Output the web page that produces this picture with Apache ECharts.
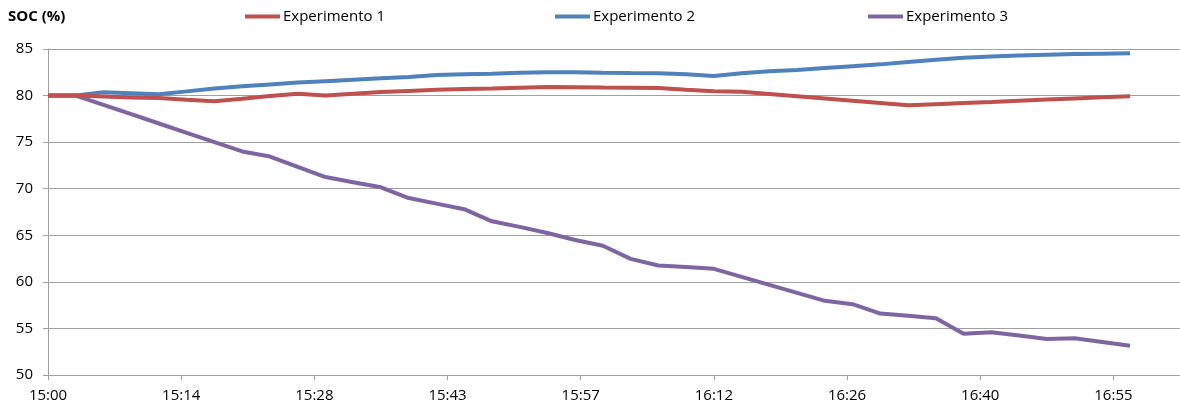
<!DOCTYPE html>
<html>
<head>
<meta charset="utf-8">
<script src="https://cdn.jsdelivr.net/npm/echarts@6/dist/echarts.min.js"></script>
<style>
html,body{margin:0;padding:0;background:#fff;}
#chart{width:1180px;height:407px;}
</style>
</head>
<body>
<div id="chart"></div>
<script>
// minutes after 15:00
const minutes = [0,3,6,9,12,15,18,21,24,27,30,33,36,39,42,45,48,51,54,57,60,63,66,69,72,75,78,81,84,87,90,93,96,99,102,105,108,111,114,117];
const exp1 = [80,80,79.9,79.8,79.75,79.55,79.38,79.65,79.95,80.2,80.0,80.2,80.38,80.5,80.62,80.7,80.75,80.85,80.93,80.9,80.87,80.85,80.8,80.62,80.47,80.4,80.16,79.92,79.68,79.44,79.2,78.96,79.08,79.2,79.32,79.45,79.57,79.69,79.81,79.93];
const exp2 = [80,80,80.35,80.25,80.15,80.45,80.75,81.0,81.2,81.4,81.55,81.7,81.85,82.0,82.2,82.3,82.35,82.45,82.5,82.5,82.45,82.42,82.4,82.3,82.1,82.4,82.6,82.75,82.95,83.15,83.35,83.6,83.85,84.05,84.2,84.3,84.38,84.45,84.5,84.55];
const exp3 = [80,80,79,78,77,76,75,74,73.45,72.35,71.25,70.7,70.15,69.0,68.4,67.8,66.5,65.9,65.25,64.5,63.87,62.47,61.76,61.6,61.4,60.54,59.68,58.82,57.96,57.6,56.6,56.35,56.1,54.44,54.59,54.23,53.87,53.94,53.55,53.15];
const seriesNames = ['Experimento 1','Experimento 2','Experimento 3'];
const tickLabels = ['15:00','15:14','15:28','15:43','15:57','16:12','16:26','16:40','16:55'];
const colors = ['#C0504D','#4F81BD','#8064A2'];

const FONT = 'Open Sans';
const chart = echarts.init(document.getElementById('chart'));
const pairs = arr => minutes.map((m,i)=>[m,arr[i]]);
const legendLefts = [245,555,868];
chart.setOption({
  animation:false,
  textStyle:{fontFamily:FONT},
  title:{text:'SOC (%)',left:8,top:9,padding:0,textStyle:{fontFamily:FONT,fontSize:15,fontWeight:'bold',color:'#000'}},
  legend: seriesNames.map((n,i)=>({
    data:[n], left:legendLefts[i], top:9, padding:0, icon:'rect', itemWidth:35, itemHeight:4, itemGap:5,
    textStyle:{fontFamily:FONT,fontSize:15,color:'#000',padding:[0,0,0,-2]}
  })),
  grid:{left:48,right:-2,top:49,bottom:32,containLabel:false},
  xAxis:{
    type:'value', min:0, max:122.4, interval:14.4,
    axisLine:{show:true,lineStyle:{color:'#a0a0a0',width:1}},
    axisTick:{show:true,length:5,lineStyle:{color:'#a0a0a0'}},
    splitLine:{show:false},
    axisLabel:{showMaxLabel:false,margin:13,color:'#000',fontFamily:FONT,fontSize:15,
      formatter:v=>{const k=Math.round(v/14.4);return (Math.abs(v-k*14.4)<1e-6 && tickLabels[k])?tickLabels[k]:'';}}
  },
  yAxis:{
    type:'value', min:50, max:85, interval:5,
    axisLine:{show:true,lineStyle:{color:'#a0a0a0',width:1}},
    axisTick:{show:true,length:5,lineStyle:{color:'#a0a0a0'}},
    splitLine:{show:true,lineStyle:{color:'#a0a0a0',width:1}},
    axisLabel:{margin:15,color:'#000',fontFamily:FONT,fontSize:15}
  },
  series:[exp1,exp2,exp3].map((d,i)=>({
    name:seriesNames[i], type:'line', data:pairs(d), symbol:'none', showSymbol:false,
    color:colors[i], lineStyle:{color:colors[i],width:4}, z:3-i
  }))
});
</script>
</body>
</html>
